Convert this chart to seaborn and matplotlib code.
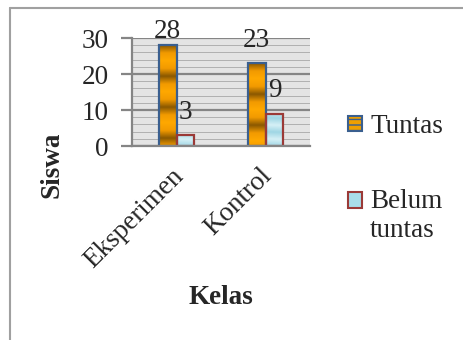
import numpy as np
import pandas as pd
import matplotlib
matplotlib.use("Agg")
import matplotlib.pyplot as plt
import matplotlib.patches as mpatches
from matplotlib.legend_handler import HandlerPatch
from matplotlib.lines import Line2D
from matplotlib.colors import LinearSegmentedColormap
from matplotlib.transforms import ScaledTranslation
import seaborn as sns

# data
kelas = ["Eksperimen", "Kontrol"]
tuntas = [28, 23]
belum_tuntas = [3, 9]
status = ["Tuntas", "Belum tuntas"]

df = pd.DataFrame({
    "Kelas": kelas * 2,
    "Status": [status[0]] * len(kelas) + [status[1]] * len(kelas),
    "Siswa": tuntas + belum_tuntas,
})

sns.set_style("white")
plt.rcParams["font.family"] = ["Liberation Serif", "DejaVu Serif"]

FS = 19.5
orange = "#f0a000"
blue_fill = "#a9dde9"
edge_tuntas = "#3a5f8f"
edge_belum = "#9b3a37"

fig = plt.figure(figsize=(4.63, 3.4), dpi=100)
fig.patch.set_facecolor("white")
ax = fig.add_axes([132 / 463, 1 - 146 / 340, 178 / 463, 108 / 340])

sns.barplot(data=df, x="Kelas", y="Siswa", hue="Status", hue_order=status,
            palette=[orange, blue_fill], width=0.4, legend=False, ax=ax,
            linewidth=1.6, saturation=1)

# edge colors per series
for bar in ax.containers[0]:
    bar.set_edgecolor(edge_tuntas)
for bar in ax.containers[1]:
    bar.set_edgecolor(edge_belum)

ax.set_ylim(0, 30)
ax.set_xlim(-0.5, 1.5)

# gold gradient on the Tuntas bars (dark band at the top)
gold = LinearSegmentedColormap.from_list("gold", ["#ffa800", "#f29a00", "#8a5800", "#f29a00", "#ffa800"])
px = 30 / 108  # data units per pixel
period = 31 * px
for bar in ax.containers[0]:
    x0, w, h = bar.get_x(), bar.get_width(), bar.get_height()
    yy = np.linspace(h, 0, 300)
    phase = (0.5 + (h - yy) / period) % 1.0
    img = ax.imshow(phase[:, None], cmap=gold, vmin=0, vmax=1, aspect="auto",
                    extent=(x0, x0 + w, 0, h), zorder=bar.get_zorder(),
                    interpolation="bilinear")
    img.set_clip_path(bar)
    bar.set_facecolor("none")
    bar.set_zorder(bar.get_zorder() + 0.1)

# light shine on the Belum tuntas bars
shine = LinearSegmentedColormap.from_list("shine", ["#9fd6e4", "#d6f0f6", "#9fd6e4"])
for bar in ax.containers[1]:
    x0, w, h = bar.get_x(), bar.get_width(), bar.get_height()
    gx, gy = np.meshgrid(np.linspace(0, 1, 60), np.linspace(1, 0, 60))
    val = ((gx * w / px + gy * h / px) / 14) % 1.0
    img = ax.imshow(val, cmap=shine, vmin=0, vmax=1, aspect="auto",
                    extent=(x0, x0 + w, 0, h), zorder=bar.get_zorder(),
                    interpolation="bilinear")
    img.set_clip_path(bar)
    bar.set_facecolor("none")
    bar.set_zorder(bar.get_zorder() + 0.1)

ax.set_xlim(-0.5, 1.5)
ax.set_ylim(0, 30)

# background and grid
ax.set_facecolor("#e4e4e4")
ax.set_yticks([0, 10, 20, 30])
ax.set_yticks(np.arange(0, 31, 2), minor=True)
ax.grid(axis="y", which="minor", color="#b0b0b0", linewidth=0.7)
ax.grid(axis="y", which="major", color="#858585", linewidth=1.6)
ax.set_axisbelow(True)
for side in ["top", "right"]:
    ax.spines[side].set_visible(False)
for side in ["left", "bottom"]:
    ax.spines[side].set_color("#858585")
    ax.spines[side].set_linewidth(1.6)

ax.tick_params(axis="y", which="major", direction="out", length=8, width=1.6,
               color="#858585", labelsize=FS, pad=9, left=True)
ax.tick_params(axis="y", which="minor", left=False)
ax.tick_params(axis="x", length=0, labelsize=FS, pad=19)
ax.set_xlabel("")
ax.set_ylabel("")

for lab in ax.get_xticklabels():
    lab.set_rotation(45)
    lab.set_ha("right")
    lab.set_va("center")
    lab.set_rotation_mode("anchor")
    lab.set_transform(lab.get_transform() + ScaledTranslation(3 / 100, 0, fig.dpi_scale_trans))

# value labels above the bars (baseline ~16 px above the bar top),
# pushed down when they would leave the chart area
axis_top = ax.transAxes.transform((0, 1))[1]
for cont in ax.containers:
    for bar, val in zip(cont, cont.datavalues):
        cx = bar.get_x() + bar.get_width() / 2
        ytop = ax.transAxes.transform((0, bar.get_height() / 30))[1]
        base_px = min(16.5, axis_top - ytop)
        ax.annotate(f"{val:g}", xy=(cx, bar.get_height()),
                    xytext=(0, base_px * 72 / fig.dpi), textcoords="offset points",
                    ha="center", va="baseline", fontsize=FS, annotation_clip=False)

# axis titles
fig.text(52 / 463, 1 - 165 / 340, "Siswa", rotation=90, fontsize=FS,
         fontweight="bold", ha="center", va="center")
fig.text(221 / 463, 1 - 297 / 340, "Kelas", fontsize=FS, fontweight="bold",
         ha="center", va="center")


# legend: square aligned with the first text line
class HandlerFirstLine(HandlerPatch):
    def __init__(self, lift=0.0, **kw):
        super().__init__(**kw)
        self.lift = lift

    def create_artists(self, legend, orig_handle, xdescent, ydescent, width,
                       height, fontsize, trans):
        r = mpatches.Rectangle((-xdescent, -ydescent + self.lift), width, height)
        self.update_prop(r, orig_handle, legend)
        r.set_transform(trans)
        return [r]


h_tuntas = mpatches.Patch(facecolor=orange, edgecolor=edge_tuntas, hatch="---", linewidth=1.5)
h_belum = mpatches.Patch(facecolor=blue_fill, edgecolor=edge_belum, linewidth=1.5)
fig.legend([h_tuntas, h_belum], ["Tuntas", "Belum\ntuntas"], loc="upper left",
           bbox_to_anchor=(348 / 463, 1 - 114 / 340), frameon=False,
           fontsize=FS, handlelength=0.52, handleheight=0.52,
           handletextpad=0.3, labelspacing=1.85, borderpad=0, borderaxespad=0,
           handler_map={h_tuntas: HandlerFirstLine(),
                        h_belum: HandlerFirstLine(lift=0.6 * FS)})

# outer chart frame
fig.add_artist(Line2D([10 / 463, 1], [1 - 8 / 340, 1 - 8 / 340],
                      transform=fig.transFigure, color="#a0a0a0", linewidth=1.5))
fig.add_artist(Line2D([10 / 463, 10 / 463], [0, 1 - 8 / 340],
                      transform=fig.transFigure, color="#a0a0a0", linewidth=1.5))

fig.savefig("out.png", dpi=100)
